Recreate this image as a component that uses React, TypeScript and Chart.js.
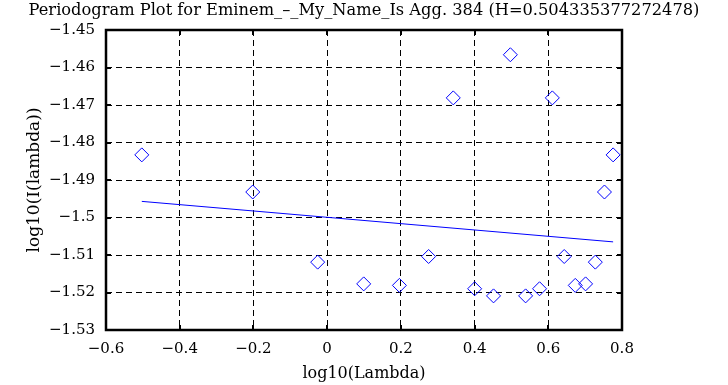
import React, { useEffect, useRef } from "react";
import { Chart, registerables } from "chart.js";

Chart.register(...registerables);

const TITLE = "Periodogram Plot for Eminem_\u2013_My_Name_Is Agg. 384 (H=0.504335377272478)";
const X_LABEL = "log10(Lambda)";
const Y_LABEL = "log10(I(lambda))";

const logLambda = [
  -0.5029, -0.2018, -0.0257, 0.0992, 0.1961, 0.2753, 0.3422, 0.4002, 0.4514, 0.4971,
  0.5385, 0.5763, 0.611, 0.6432, 0.6732, 0.7012, 0.7276, 0.7524, 0.7759,
];
const logPeriodogram = [
  -1.4833, -1.4932, -1.5119, -1.5177, -1.5181, -1.5104, -1.4681, -1.519, -1.5209, -1.4566,
  -1.5209, -1.519, -1.4681, -1.5104, -1.5181, -1.5177, -1.5119, -1.4932, -1.4833,
];
const fitX = [-0.5029, 0.7759];
const fitY = [-1.4957, -1.5065];

const X_MIN = -0.6, X_MAX = 0.8, X_STEP = 0.2;
const Y_MIN = -1.53, Y_MAX = -1.45, Y_STEP = 0.01;

const FONT = "'DejaVu Serif', 'Liberation Serif', serif";

function fmt(v: number, digits: number): string {
  const r = Math.round(v * 1000) / 1000;
  if (Math.abs(r) < 1e-9) return "0";
  let s = Math.abs(r).toFixed(digits).replace(/0+$/, "").replace(/\.$/, "");
  return (r < 0 ? "\u2212" : "") + s;
}

const framePlugin = {
  id: "frame",
  beforeDatasetsDraw(chart: any) {
    const { ctx, chartArea } = chart;
    const { left, right, top, bottom } = chartArea;
    ctx.save();
    ctx.strokeStyle = "#000";
    ctx.lineWidth = 2;
    const xs = chart.scales.x;
    const ys = chart.scales.y;
    const tl = 5;
    ctx.beginPath();
    xs.ticks.forEach((t: any) => {
      const px = Math.round(xs.getPixelForValue(t.value));
      ctx.moveTo(px, bottom);
      ctx.lineTo(px, bottom - tl);
      ctx.moveTo(px, top);
      ctx.lineTo(px, top + tl);
    });
    ys.ticks.forEach((t: any) => {
      const py = Math.round(ys.getPixelForValue(t.value));
      ctx.moveTo(left, py);
      ctx.lineTo(left + tl, py);
      ctx.moveTo(right, py);
      ctx.lineTo(right - tl, py);
    });
    ctx.stroke();
    ctx.lineWidth = 2.5;
    ctx.strokeRect(left, top, right - left, bottom - top);
    ctx.restore();
  },
};

export default function App() {
  const ref = useRef<HTMLCanvasElement | null>(null);
  useEffect(() => {
    if (!ref.current) return;
    const chart = new Chart(ref.current, {
      type: "scatter",
      data: {
        datasets: [
          {
            label: "periodogram",
            data: logLambda.map((x, i) => ({ x, y: logPeriodogram[i] })),
            pointStyle: "rectRot",
            pointRadius: 7,
            pointHoverRadius: 7,
            borderColor: "#0000ff",
            backgroundColor: "rgba(0,0,0,0)",
            pointBorderWidth: 1,
            showLine: false,
          },
          {
            label: "fit",
            data: fitX.map((x, i) => ({ x, y: fitY[i] })),
            showLine: true,
            borderColor: "#0000ff",
            borderWidth: 1,
            pointRadius: 0,
            fill: false,
          },
        ],
      },
      options: {
        responsive: false,
        animation: false,
        events: [],
        layout: { padding: 0 },
        plugins: {
          legend: { display: false },
          tooltip: { enabled: false },
          title: {
            display: true,
            text: TITLE,
            color: "#000",
            font: { family: FONT, size: 16.25, weight: "normal", lineHeight: 1.2 },
            padding: { top: 1.5, bottom: 9 },
          },
        },
        scales: {
          x: {
            type: "linear",
            min: X_MIN,
            max: X_MAX,
            afterFit: (s: any) => {
              s.height = 55;
            },
            ticks: {
              stepSize: X_STEP,
              color: "#000",
              font: { family: FONT, size: 15 },
              padding: 10,
              maxRotation: 0,
              callback: (v: any) => fmt(Number(v), 1),
            },
            grid: { color: "#000", lineWidth: 1, drawTicks: false },
            border: { display: false, dash: [6, 4] },
            title: {
              display: true,
              text: X_LABEL,
              color: "#000",
              font: { family: FONT, size: 16 },
              padding: { top: 0, bottom: 2 },
            },
          },
          y: {
            type: "linear",
            min: Y_MIN,
            max: Y_MAX,
            afterFit: (s: any) => {
              s.width = 106;
            },
            ticks: {
              stepSize: Y_STEP,
              color: "#000",
              font: { family: FONT, size: 15 },
              padding: 11,
              callback: (v: any) => fmt(Number(v), 2),
            },
            grid: { color: "#000", lineWidth: 1, drawTicks: false },
            border: { display: false, dash: [6, 4] },
            title: {
              display: true,
              text: Y_LABEL,
              color: "#000",
              font: { family: FONT, size: 17 },
              padding: { top: 24, bottom: 0 },
            },
          },
          yRight: {
            type: "linear",
            position: "right",
            min: Y_MIN,
            max: Y_MAX,
            afterFit: (s: any) => {
              s.width = 106;
            },
            ticks: { display: false },
            grid: { display: false, drawTicks: false },
            border: { display: false },
          },
        },
      },
      plugins: [framePlugin],
    });
    return () => chart.destroy();
  }, []);
  return (
    <div style={{ position: "fixed", left: 0, top: 0, width: 728, height: 385, background: "#fff" }}>
      <canvas ref={ref} width={728} height={385} />
    </div>
  );
}
